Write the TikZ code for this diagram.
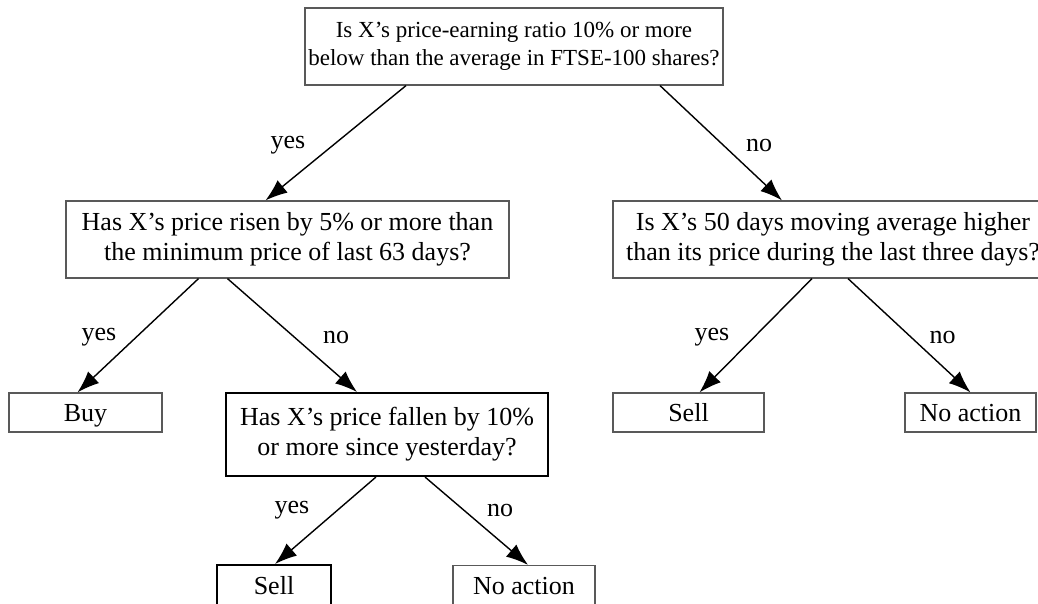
\documentclass[tikz,border=0pt]{standalone}
\usepackage{fontspec}
\setmainfont{Liberation Serif}
\usetikzlibrary{calc, positioning, arrows.meta}

\begin{document}
\begin{tikzpicture}[x=1pt,y=-1pt,
  box/.style={draw=black!65,line width=1.2pt,align=center,inner sep=0pt,font=\fontsize{26}{30}\selectfont},
  thickbox/.style={box,draw=black,line width=2pt},
  act/.style={text height=17.5pt,text depth=0pt},
  arr/.style={-{Latex[length=22pt,width=16pt]},line width=1.4pt},
  lbl/.style={font=\fontsize{26}{30}\selectfont,inner sep=0pt}]
\useasboundingbox (0,0) rectangle (1038,603);
\clip (0,0) rectangle (1038,603);
% questions
\node[box,font=\fontsize{23}{28}\selectfont,minimum width=418pt,minimum height=77pt] (q1) at (514,46.5) {Is X's price-earning ratio 10\% or more\\below than the average in FTSE-100 shares?};
\node[box,minimum width=443pt,minimum height=77pt] (q2) at (287.5,239.5) {Has X's price risen by 5\% or more than\\the minimum price of last 63 days?};
\node[box,minimum width=440pt,minimum height=77pt] (q3) at (833,239.5) {Is X's 50 days moving average higher\\than its price during the last three days?};
\node[thickbox,minimum width=322pt,minimum height=83pt] (q4) at (387,434.5) {Has X's price fallen by 10\%\\or more since yesterday?};
% actions
\node[box,act,minimum width=153pt,minimum height=39pt] (buy) at (85.5,412.5) {Buy};
\node[box,act,minimum width=151pt,minimum height=39pt] (sell1) at (688.5,412.5) {Sell};
\node[box,act,minimum width=131pt,minimum height=39pt] (noact1) at (970.5,412.5) {No action};
\node[thickbox,act,minimum width=114pt,minimum height=41pt] (sell2) at (274,585.5) {Sell};
\node[box,act,minimum width=142pt,minimum height=41pt] (noact2) at (524,586) {No action};
% branches
\draw[arr] ([xshift=-108pt]q1.south) -- ([xshift=-22pt]q2.north);
\draw[arr] ([xshift=146pt]q1.south) -- ([xshift=-51pt]q3.north);
\draw[arr] ([xshift=-89pt]q2.south) -- ([xshift=-8pt]buy.north);
\draw[arr] ([xshift=-60pt]q2.south) -- ([xshift=-30pt]q4.north);
\draw[arr] ([xshift=-21pt]q3.south) -- ([xshift=11pt]sell1.north);
\draw[arr] ([xshift=15pt]q3.south) -- (noact1.north);
\draw[arr] ([xshift=-11pt]q4.south) -- ([xshift=1pt]sell2.north);
\draw[arr] ([xshift=38pt]q4.south) -- ([xshift=4pt]noact2.north);
% labels
\node[lbl] (y1) at (288,145) {yes};
\node[lbl] (n1) at (759,145) {no};
\node[lbl] (y2) at (99,337) {yes};
\node[lbl] (n2) at (336,337) {no};
\node[lbl] (y3) at (712,337) {yes};
\node[lbl] (n3) at (942.5,337) {no};
\node[lbl] (y4) at (292,510) {yes};
\node[lbl] (n4) at (500,510) {no};
\end{tikzpicture}
\end{document}
